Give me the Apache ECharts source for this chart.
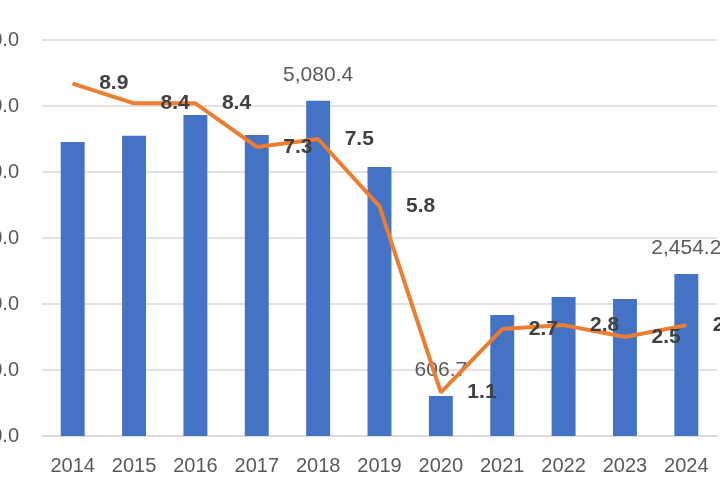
<!DOCTYPE html>
<html>
<head>
<meta charset="utf-8">
<title>chart</title>
<script src="https://cdn.jsdelivr.net/npm/echarts@6/dist/echarts.min.js"></script>
<style>
html,body{margin:0;padding:0;background:#fff;}
#main{width:720px;height:500px;}
</style>
</head>
<body>
<div id="main"></div>
<script>
// years
var years = ['2014','2015','2016','2017','2018','2019','2020','2021','2022','2023','2024'];
// bar values
var amounts = [4455, 4550, 4864, 4560, 5080.4, 4076, 606.7, 1833, 2106, 2076, 2454.2];
// line values (growth)
var rates = [8.9, 8.4, 8.4, 7.3, 7.5, 5.8, 1.1, 2.7, 2.8, 2.5, 2.8];
// bars that carry a value label
var labelled = [4, 6, 10];

var myChart = echarts.init(document.getElementById('main'));

var barData = amounts.map(function (v, i) {
    return {
        value: v,
        label: {show: labelled.indexOf(i) >= 0}
    };
});

var option = {
    animation: false,
    textStyle: {fontFamily: 'Liberation Sans'},
    grid: {left: 42, right: 3, top: 40, bottom: 64, containLabel: false, outerBoundsMode: 'none'},
    xAxis: {
        type: 'category',
        data: years,
        axisLine: {lineStyle: {color: '#d9d9d9', width: 1.5}},
        axisTick: {show: false},
        axisLabel: {color: '#595959', fontSize: 20, margin: 20}
    },
    yAxis: [{
        type: 'value',
        min: 0,
        max: 6000,
        interval: 1000,
        axisLine: {show: false},
        axisTick: {show: false},
        splitLine: {lineStyle: {color: '#d9d9d9', width: 1.5}},
        axisLabel: {
            color: '#595959',
            fontSize: 20,
            margin: 23,
            formatter: function (v) {
                return v.toLocaleString('en-US', {minimumFractionDigits: 1, maximumFractionDigits: 1});
            }
        }
    }, {
        type: 'value',
        min: 0,
        max: 10,
        axisLine: {show: false},
        axisTick: {show: false},
        axisLabel: {show: false},
        splitLine: {show: false}
    }],
    series: [{
        name: 'amount',
        type: 'bar',
        data: barData,
        barWidth: '39%',
        itemStyle: {color: '#4472C4'},
        label: {
            position: 'top',
            distance: 15,
            color: '#595959',
            fontSize: 21,
            formatter: function (p) {
                return p.value.toLocaleString('en-US', {minimumFractionDigits: 1, maximumFractionDigits: 1});
            }
        }
    }, {
        name: 'rate',
        type: 'line',
        yAxisIndex: 1,
        data: rates,
        z: 5,
        symbol: 'circle',
        symbolSize: 1,
        showSymbol: true,
        lineStyle: {color: '#ED7D31', width: 4},
        itemStyle: {color: '#ED7D31'},
        label: {
            show: true,
            position: 'right',
            distance: 26,
            color: '#404040',
            fontSize: 21,
            fontWeight: 'bold',
            formatter: function (p) {
                return p.value.toFixed(1);
            }
        }
    }]
};
myChart.setOption(option);
</script>
</body>
</html>
